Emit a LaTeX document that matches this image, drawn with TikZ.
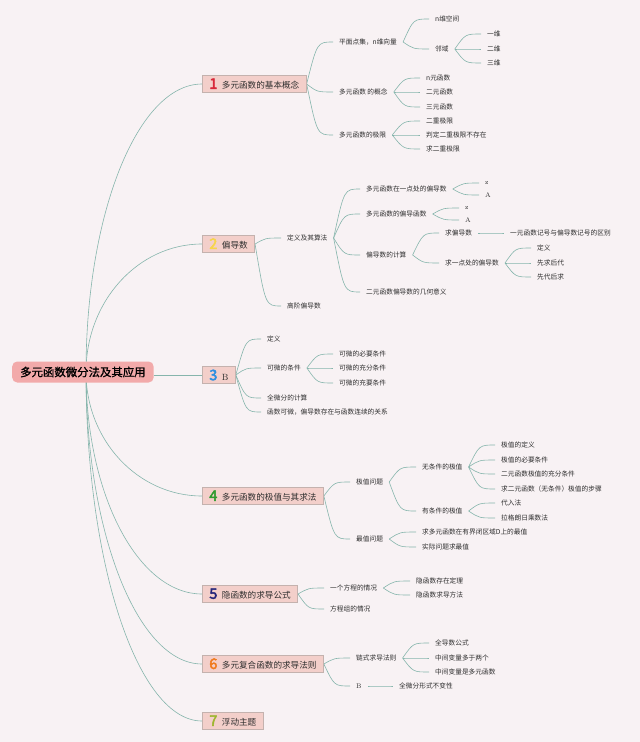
\documentclass[tikz,border=0pt]{standalone}
\usepackage{fontspec}
\usetikzlibrary{calc}
\newfontfamily\cjk{Noto Sans CJK SC}
\newfontfamily\cjkb{Noto Sans CJK SC}[FakeBold=1.2]
\newfontfamily\cjknum{Noto Sans CJK SC}[FakeBold=3]
\definecolor{bgc}{HTML}{F8F2F4}
\definecolor{linec}{HTML}{86B5AC}
\definecolor{boxf}{HTML}{F3CFCA}
\definecolor{boxd}{HTML}{C4B2AE}
\definecolor{rootf}{HTML}{F2AAAA}
\definecolor{txt}{HTML}{2E2E2E}
\definecolor{n1}{HTML}{D8283A}
\definecolor{n2}{HTML}{F7D54A}
\definecolor{n3}{HTML}{2E8FE0}
\definecolor{n4}{HTML}{2E9A2E}
\definecolor{n5}{HTML}{25257A}
\definecolor{n6}{HTML}{F07A1E}
\definecolor{n7}{HTML}{9CB52C}
\pgfdeclarelayer{bg}\pgfdeclarelayer{lines}\pgfsetlayers{bg,lines,main}
\tikzset{
 conn/.style={draw=linec, line width=0.6pt},
 leaf/.style={font=\cjk\fontsize{6.7}{8}\selectfont, text=txt, inner xsep=6pt, inner ysep=1pt, anchor=west, xshift=-6pt},
 lat/.style={font=\fontsize{6.7}{8}\selectfont, text=txt, inner xsep=6pt, inner ysep=1pt, anchor=west, xshift=-6pt},
 mbox/.style={fill=boxf, draw=boxd, line width=0.7pt, inner xsep=7pt, inner ysep=0pt, minimum height=17pt, anchor=west, text=txt, font=\cjk\fontsize{8.6}{10}\selectfont},
 rootbox/.style={fill=rootf, rounded corners=5pt, minimum height=21pt, inner xsep=8pt, anchor=west, text=black, font=\cjkb\fontsize{11.4}{13}\selectfont},
}
\newcommand\num[2]{{\color{#1}\cjknum\fontsize{14.5}{14}\selectfont #2}\hspace{4.5pt}}
\newcommand\rconn[2]{\draw[conn] let \p1=(#1), \p2=(#2) in (\p1) .. controls (\x1,{\y1+0.552*(\y2-\y1)}) and ({\x2-0.552*(\x2-\x1)},\y2) .. (\p2);}
\newcommand\conn[2]{\draw[conn] let \p1=(#1), \p2=(#2) in (\p1) .. controls ({\x1+0.4*(\x2-\x1)},\y2) .. (\p2);}
\begin{document}
\begin{tikzpicture}[x=1pt,y=-1pt]
\useasboundingbox (0,0) rectangle (640,742);
\begin{pgfonlayer}{bg}
\fill[bgc] (0,0) rectangle (640,742);
\end{pgfonlayer}
% root and main topics
\node[rootbox] (r) at (12,372) {多元函数微分法及其应用};
\coordinate (rc) at (86,372);
\node[mbox] (b1) at (202,84) {\num{n1}{1}多元函数的基本概念};
\node[mbox] (b2) at (202,244) {\num{n2}{2}偏导数};
\node[mbox] (b3) at (202,375) {\num{n3}{3}{\rmfamily\fontsize{9}{10}\selectfont B}};
\node[mbox] (b4) at (202,496) {\num{n4}{4}多元函数的极值与其求法};
\node[mbox] (b5) at (202,594) {\num{n5}{5}隐函数的求导公式};
\node[mbox] (b6) at (202,664) {\num{n6}{6}多元复合函数的求导法则};
\node[mbox] (b7) at (202,721) {\num{n7}{7}浮动主题};
% branch 1
\node[leaf] (a1) at (339,42) {平面点集，n维向量};
\node[leaf] (a11) at (435,19) {n维空间};
\node[leaf] (a12) at (435,49) {邻域};
\node[leaf] (a121) at (487,34) {一维};
\node[leaf] (a122) at (487,49) {二维};
\node[leaf] (a123) at (487,63) {三维};
\node[leaf] (a2) at (339,92) {多元函数 的概念};
\node[leaf] (a21) at (426,78) {n元函数};
\node[leaf] (a22) at (426,92) {二元函数};
\node[leaf] (a23) at (426,107) {三元函数};
\node[leaf] (a3) at (339,135) {多元函数的极限};
\node[leaf] (a31) at (426,121) {二重极限};
\node[leaf] (a32) at (426,135) {判定二重极限不存在};
\node[leaf] (a33) at (426,149) {求二重极限};
% branch 2
\node[leaf] (p1) at (287,238) {定义及其算法};
\node[leaf] (p11) at (366,189) {多元函数在一点处的偏导数};
\node[lat] (z1) at (485,183) {z};
\node[lat] (A1) at (485,195) {A};
\node[leaf] (p12) at (366,214) {多元函数的偏导函数};
\node[lat] (z2) at (465,208) {z};
\node[lat] (A2) at (465,220) {A};
\node[leaf] (p13) at (366,255) {偏导数的计算};
\node[leaf] (p131) at (445,233) {求偏导数};
\node[leaf] (p1311) at (510,233) {一元函数记号与偏导数记号的区别};
\node[leaf] (p132) at (445,263) {求一点处的偏导数};
\node[leaf] (p1321) at (537,248) {定义};
\node[leaf] (p1322) at (537,263) {先求后代};
\node[leaf] (p1323) at (537,277) {先代后求};
\node[leaf] (p14) at (366,292) {二元函数偏导数的几何意义};
\node[leaf] (p2) at (287,306) {高阶偏导数};
% branch 3
\node[leaf] (c1) at (267,339) {定义};
\node[leaf] (c2) at (267,368) {可微的条件};
\node[leaf] (c21) at (339,354) {可微的必要条件};
\node[leaf] (c22) at (339,368) {可微的充分条件};
\node[leaf] (c23) at (339,383) {可微的充要条件};
\node[leaf] (c3) at (267,398) {全微分的计算};
\node[leaf] (c4) at (267,412) {函数可微，偏导数存在与函数连续的关系};
% branch 4
\node[leaf] (d1) at (356,482) {极值问题};
\node[leaf] (d11) at (422,467) {无条件的极值};
\node[leaf] (d111) at (501,445) {极值的定义};
\node[leaf] (d112) at (501,460) {极值的必要条件};
\node[leaf] (d113) at (501,474) {二元函数极值的充分条件};
\node[leaf] (d114) at (501,489) {求二元函数（无条件）极值的步骤};
\node[leaf] (d12) at (422,511) {有条件的极值};
\node[leaf] (d121) at (501,503) {代入法};
\node[leaf] (d122) at (501,518) {拉格朗日乘数法};
\node[leaf] (d2) at (356,539) {最值问题};
\node[leaf] (d21) at (422,532) {求多元函数在有界闭区域D上的最值};
\node[leaf] (d22) at (422,547) {实际问题求最值};
% branch 5
\node[leaf] (e1) at (330,588) {一个方程的情况};
\node[leaf] (e11) at (416,581) {隐函数存在定理};
\node[leaf] (e12) at (416,595) {隐函数求导方法};
\node[leaf] (e2) at (330,609) {方程组的情况};
% branch 6
\node[leaf] (f1) at (356,658) {链式求导法则};
\node[leaf] (f11) at (435,643) {全导数公式};
\node[leaf] (f12) at (435,658) {中间变量多于两个};
\node[leaf] (f13) at (435,672) {中间变量是多元函数};
\node[lat] (f2) at (356,686) {B};
\node[leaf] (f21) at (399,686) {全微分形式不变性};
% connectors
\begin{pgfonlayer}{lines}
\rconn{rc}{b1.west}
\rconn{rc}{b2.west}
\draw[conn] (b3.west -| r.east) -- (b3.west);
\rconn{rc}{b4.west}
\rconn{rc}{b5.west}
\rconn{rc}{b6.west}
\rconn{rc}{b7.west}
\conn{b1.east}{a1.west}
\conn{b1.east}{a2.west}
\conn{b1.east}{a3.west}
\conn{a1.east}{a11.west}
\conn{a1.east}{a12.west}
\conn{a12.east}{a121.west}
\conn{a12.east}{a122.west}
\conn{a12.east}{a123.west}
\conn{a2.east}{a21.west}
\conn{a2.east}{a22.west}
\conn{a2.east}{a23.west}
\conn{a3.east}{a31.west}
\conn{a3.east}{a32.west}
\conn{a3.east}{a33.west}
\conn{b2.east}{p1.west}
\conn{b2.east}{p2.west}
\conn{p1.east}{p11.west}
\conn{p1.east}{p12.west}
\conn{p1.east}{p13.west}
\conn{p1.east}{p14.west}
\conn{p11.east}{z1.west}
\conn{p11.east}{A1.west}
\conn{p12.east}{z2.west}
\conn{p12.east}{A2.west}
\conn{p13.east}{p131.west}
\conn{p13.east}{p132.west}
\conn{p131.east}{p1311.west}
\conn{p132.east}{p1321.west}
\conn{p132.east}{p1322.west}
\conn{p132.east}{p1323.west}
\conn{b3.east}{c1.west}
\conn{b3.east}{c2.west}
\conn{b3.east}{c3.west}
\conn{b3.east}{c4.west}
\conn{c2.east}{c21.west}
\conn{c2.east}{c22.west}
\conn{c2.east}{c23.west}
\conn{b4.east}{d1.west}
\conn{b4.east}{d2.west}
\conn{d1.east}{d11.west}
\conn{d1.east}{d12.west}
\conn{d11.east}{d111.west}
\conn{d11.east}{d112.west}
\conn{d11.east}{d113.west}
\conn{d11.east}{d114.west}
\conn{d12.east}{d121.west}
\conn{d12.east}{d122.west}
\conn{d2.east}{d21.west}
\conn{d2.east}{d22.west}
\conn{b5.east}{e1.west}
\conn{b5.east}{e2.west}
\conn{e1.east}{e11.west}
\conn{e1.east}{e12.west}
\conn{b6.east}{f1.west}
\conn{b6.east}{f2.west}
\conn{f1.east}{f11.west}
\conn{f1.east}{f12.west}
\conn{f1.east}{f13.west}
\conn{f2.east}{f21.west}
\end{pgfonlayer}
\end{tikzpicture}
\end{document}
